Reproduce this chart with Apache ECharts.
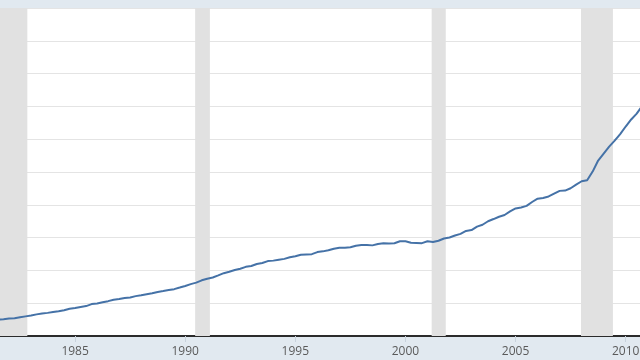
<!DOCTYPE html>
<html>
<head>
<meta charset="utf-8">
<script src="https://cdn.jsdelivr.net/npm/echarts@6/dist/echarts.min.js"></script>
<style>
html,body{margin:0;padding:0;background:#e1e9f0;}
#c{width:640px;height:360px;}
</style>
</head>
<body>
<div id="c"></div>
<script>
// Quarterly series, first observation 1981 Q1 (values in trillions)
const startYear = 1981;
const quarterlyValues = [
  0.964, 0.971, 0.997, 1.028,
  1.062, 1.085, 1.143, 1.197,
  1.245, 1.319, 1.377, 1.410,
  1.463, 1.512, 1.572, 1.663,
  1.710, 1.774, 1.823, 1.945,
  1.986, 2.059, 2.125, 2.214,
  2.250, 2.313, 2.350, 2.432,
  2.487, 2.548, 2.602, 2.684,
  2.740, 2.800, 2.857, 2.953,
  3.053, 3.163, 3.253, 3.395,
  3.495, 3.567, 3.695, 3.831,
  3.921, 4.025, 4.105, 4.217,
  4.270, 4.392, 4.451, 4.566,
  4.596, 4.656, 4.703, 4.800,
  4.864, 4.951, 4.974, 4.989,
  5.118, 5.161, 5.225, 5.324,
  5.381, 5.376, 5.413, 5.503,
  5.542, 5.548, 5.526, 5.614,
  5.651, 5.638, 5.656, 5.776,
  5.773, 5.686, 5.674, 5.662,
  5.773, 5.727, 5.807, 5.943,
  6.006, 6.126, 6.228, 6.405,
  6.460, 6.670, 6.783, 6.998,
  7.131, 7.274, 7.379, 7.596,
  7.776, 7.836, 7.933, 8.170,
  8.371, 8.420, 8.507, 8.680,
  8.849, 8.867, 9.008, 9.229,
  9.437, 9.492, 10.025, 10.700,
  11.127, 11.545, 11.910, 12.311,
  12.773, 13.202, 13.562, 14.025
];
// Recession periods (fractional years)
const recessions = [
  [1981.50, 1982.83],
  [1990.45, 1991.12],
  [2001.19, 2001.83],
  [2007.97, 2009.42]
];
// Visible x window and tick labels
const xRange = [1981.589, 2010.65];
const xTickYears = [1985, 1990, 1995, 2000, 2005, 2010];

const seriesData = quarterlyValues.map((v, i) => [startYear + i * 0.25, v]);

const chart = echarts.init(document.getElementById('c'), null, {renderer: 'canvas'});
chart.setOption({
  animation: false,
  backgroundColor: '#e1e9f0',
  grid: {
    left: 0, right: 0, top: 8, bottom: 24,
    containLabel: false, outerBoundsMode: 'none',
    show: true, backgroundColor: '#ffffff', borderWidth: 0
  },
  xAxis: {
    type: 'value',
    min: xRange[0],
    max: xRange[1],
    axisLine: {show: true, onZero: false, lineStyle: {color: '#2b2b2b', width: 2}},
    axisTick: {show: true, length: 6, customValues: xTickYears, lineStyle: {color: '#c8d2dc'}},
    axisLabel: {
      color: '#5a5a5a', fontSize: 12, margin: 10,
      customValues: xTickYears,
      showMinLabel: true, showMaxLabel: true, hideOverlap: false,
      fontFamily: 'Open Sans, DejaVu Sans, sans-serif',
      formatter: v => String(v)
    },
    splitLine: {show: false}
  },
  yAxis: {
    type: 'value',
    min: 0, max: 20, interval: 2,
    axisLine: {show: false},
    axisTick: {show: false},
    axisLabel: {show: false},
    splitLine: {show: true, lineStyle: {color: '#e4e4e4', width: 1}}
  },
  series: [{
    type: 'line',
    data: seriesData,
    showSymbol: false,
    lineStyle: {color: '#4572a7', width: 2},
    z: 3,
    markArea: {
      silent: true,
      itemStyle: {color: '#e1e1e1'},
      data: recessions.map(r => [{xAxis: r[0]}, {xAxis: r[1]}])
    }
  }]
});
</script>
</body>
</html>
